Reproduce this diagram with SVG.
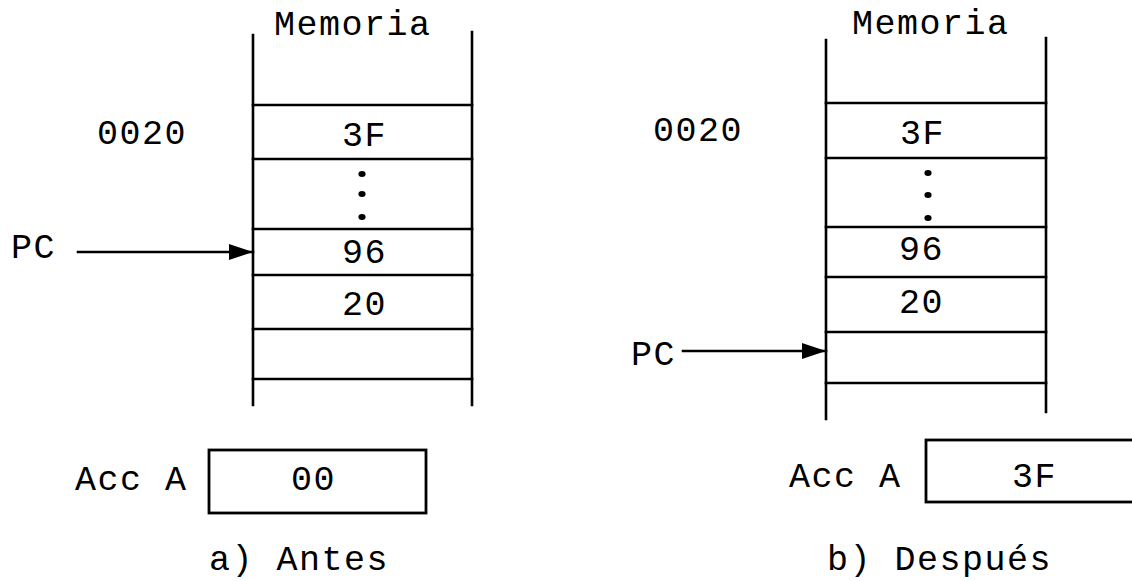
<svg xmlns="http://www.w3.org/2000/svg" width="1132" height="581" viewBox="0 0 1132 581">
  <style>
    .ln { stroke: #000; stroke-width: 2.6; fill: none; stroke-linecap: square; }
    .box { stroke: #000; stroke-width: 2.8; fill: #fff; }
    .t { font-family: "Liberation Mono", "DejaVu Sans Mono", monospace; font-size: 35px; letter-spacing: 1.5px; fill: #000; }
    .dot { fill: #000; }
  </style>
  <defs>
    <marker id="arrowhead" viewBox="0 0 24 16" refX="24" refY="8" markerWidth="24" markerHeight="16" markerUnits="userSpaceOnUse" orient="auto">
      <path d="M0,0 L24,8 L0,16 Z" fill="#000"/>
    </marker>
  </defs>
  <rect width="1132" height="581" fill="#fff"/>

  <!-- panel a: memory before -->
  <g id="memory-a">
    <text class="t" x="274" y="35">Memoria</text>
    <line class="ln" x1="253" y1="35" x2="253" y2="405"/>
    <line class="ln" x1="472" y1="32" x2="472" y2="405"/>
    <line class="ln" x1="253" y1="105" x2="472" y2="105"/>
    <line class="ln" x1="253" y1="159" x2="472" y2="159"/>
    <line class="ln" x1="253" y1="229" x2="472" y2="229"/>
    <line class="ln" x1="253" y1="275" x2="472" y2="275"/>
    <line class="ln" x1="253" y1="329" x2="472" y2="329"/>
    <line class="ln" x1="253" y1="379" x2="472" y2="379"/>
  </g>
  <g id="addr-a">
    <text class="t" x="97" y="144">0020</text>
  </g>
  <g id="cell-a-3F">
    <text class="t" x="342" y="146">3F</text>
  </g>
  <g id="cell-a-gap">
    <ellipse class="dot" cx="362" cy="174" rx="3.6" ry="3"/>
    <ellipse class="dot" cx="362" cy="194" rx="3.6" ry="3"/>
    <ellipse class="dot" cx="362" cy="217" rx="3.6" ry="3"/>
  </g>
  <g id="cell-a-96">
    <text class="t" x="342" y="263">96</text>
  </g>
  <g id="cell-a-20">
    <text class="t" x="342" y="315">20</text>
  </g>
  <g id="pc-a">
    <text class="t" x="11" y="258">PC</text>
  </g>
  <g id="acc-a">
    <text class="t" x="75" y="490">Acc A</text>
    <rect class="box" x="209" y="450" width="217" height="63"/>
    <text class="t" x="291" y="490">00</text>
  </g>
  <g id="caption-a">
    <text class="t" x="209" y="570">a) Antes</text>
  </g>

  <!-- panel b: memory after -->
  <g id="memory-b">
    <text class="t" x="852" y="34">Memoria</text>
    <line class="ln" x1="826" y1="40" x2="826" y2="419"/>
    <line class="ln" x1="1046" y1="38" x2="1046" y2="412"/>
    <line class="ln" x1="826" y1="103" x2="1046" y2="103"/>
    <line class="ln" x1="826" y1="158" x2="1046" y2="158"/>
    <line class="ln" x1="826" y1="227" x2="1046" y2="227"/>
    <line class="ln" x1="826" y1="277" x2="1046" y2="277"/>
    <line class="ln" x1="826" y1="332" x2="1046" y2="332"/>
    <line class="ln" x1="826" y1="383" x2="1046" y2="383"/>
  </g>
  <g id="addr-b">
    <text class="t" x="653" y="141">0020</text>
  </g>
  <g id="cell-b-3F">
    <text class="t" x="900" y="144">3F</text>
  </g>
  <g id="cell-b-gap">
    <ellipse class="dot" cx="928" cy="173" rx="3.6" ry="3"/>
    <ellipse class="dot" cx="928" cy="195" rx="3.6" ry="3"/>
    <ellipse class="dot" cx="928" cy="218" rx="3.6" ry="3"/>
  </g>
  <g id="cell-b-96">
    <text class="t" x="899" y="260">96</text>
  </g>
  <g id="cell-b-20">
    <text class="t" x="899" y="313">20</text>
  </g>
  <g id="pc-b">
    <text class="t" x="631" y="365">PC</text>
  </g>
  <g id="acc-b">
    <text class="t" x="789" y="487">Acc A</text>
    <rect class="box" x="926" y="440" width="220" height="62"/>
    <text class="t" x="1012" y="487">3F</text>
  </g>
  <g id="caption-b">
    <text class="t" x="827" y="570">b) Después</text>
  </g>

  <!-- program counter pointers -->
  <g id="connectors">
    <line class="ln" x1="78" y1="252" x2="253" y2="252" marker-end="url(#arrowhead)"/>
    <line class="ln" x1="683" y1="351" x2="826" y2="351" marker-end="url(#arrowhead)"/>
  </g>
</svg>
